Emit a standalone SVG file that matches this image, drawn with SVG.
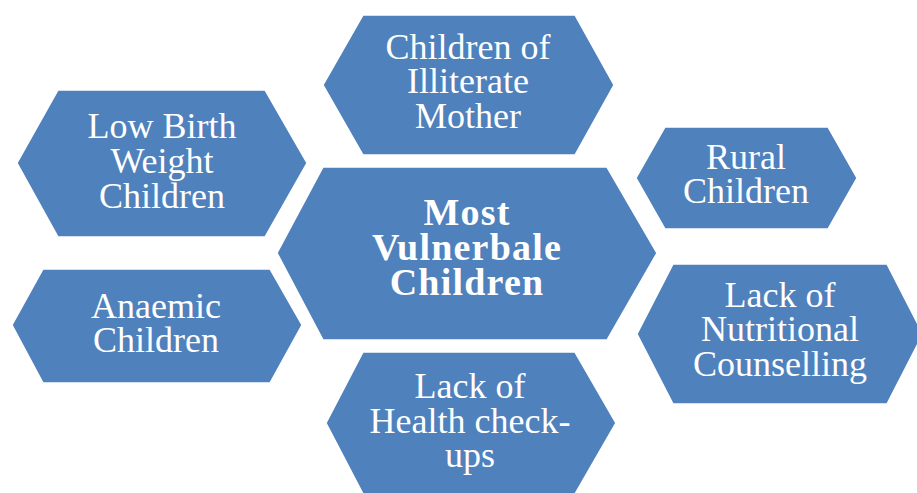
<svg xmlns="http://www.w3.org/2000/svg" width="917" height="493" viewBox="0 0 917 493">
  <style>
    .hex { fill: #4F81BD; stroke: #ffffff; stroke-width: 1.5; }
    .lbl { fill: #ffffff; font-family: "Liberation Serif", "Times New Roman", serif; font-size: 36px; text-anchor: middle; }
    .bold { font-weight: bold; font-size: 38px; letter-spacing: 1.2px; }
  </style>
  <rect width="917" height="493" fill="#ffffff"/>

  <g id="node-low-birth-weight">
    <polygon class="hex" points="17,163 58,90 265,90 307,163 265,237 58,237"/>
    <text class="lbl" x="162" y="138">Low Birth</text>
    <text class="lbl" x="162" y="173">Weight</text>
    <text class="lbl" x="162" y="208">Children</text>
  </g>

  <g id="node-illiterate-mother">
    <polygon class="hex" points="323,85 363,15 575,15 614,85 575,155 363,155"/>
    <text class="lbl" x="468" y="59">Children of</text>
    <text class="lbl" x="468" y="93">Illiterate</text>
    <text class="lbl" x="468" y="128">Mother</text>
  </g>

  <g id="node-most-vulnerable">
    <polygon class="hex" points="277,253 323,167 607,167 657,253 607,340 323,340"/>
    <text class="lbl bold" x="467" y="225">Most</text>
    <text class="lbl bold" x="467" y="260">Vulnerbale</text>
    <text class="lbl bold" x="467" y="295">Children</text>
  </g>

  <g id="node-rural">
    <polygon class="hex" points="636,178 665,127 828,127 857,178 828,229 665,229"/>
    <text class="lbl" x="746" y="169">Rural</text>
    <text class="lbl" x="746" y="203">Children</text>
  </g>

  <g id="node-nutritional-counselling">
    <polygon class="hex" points="637,334 673,264 887,264 923,334 887,404 673,404"/>
    <text class="lbl" x="780" y="307">Lack of</text>
    <text class="lbl" x="780" y="341">Nutritional</text>
    <text class="lbl" x="780" y="376">Counselling</text>
  </g>

  <g id="node-anaemic">
    <polygon class="hex" points="12,325 43,269 270,269 302,325 270,383 43,383"/>
    <text class="lbl" x="156" y="318">Anaemic</text>
    <text class="lbl" x="156" y="352">Children</text>
  </g>

  <g id="node-health-checkups">
    <polygon class="hex" points="326,423 363,352 575,352 616,423 575,494 363,494"/>
    <text class="lbl" x="470" y="398">Lack of</text>
    <text class="lbl" x="470" y="433">Health check-</text>
    <text class="lbl" x="470" y="467">ups</text>
  </g>
</svg>
